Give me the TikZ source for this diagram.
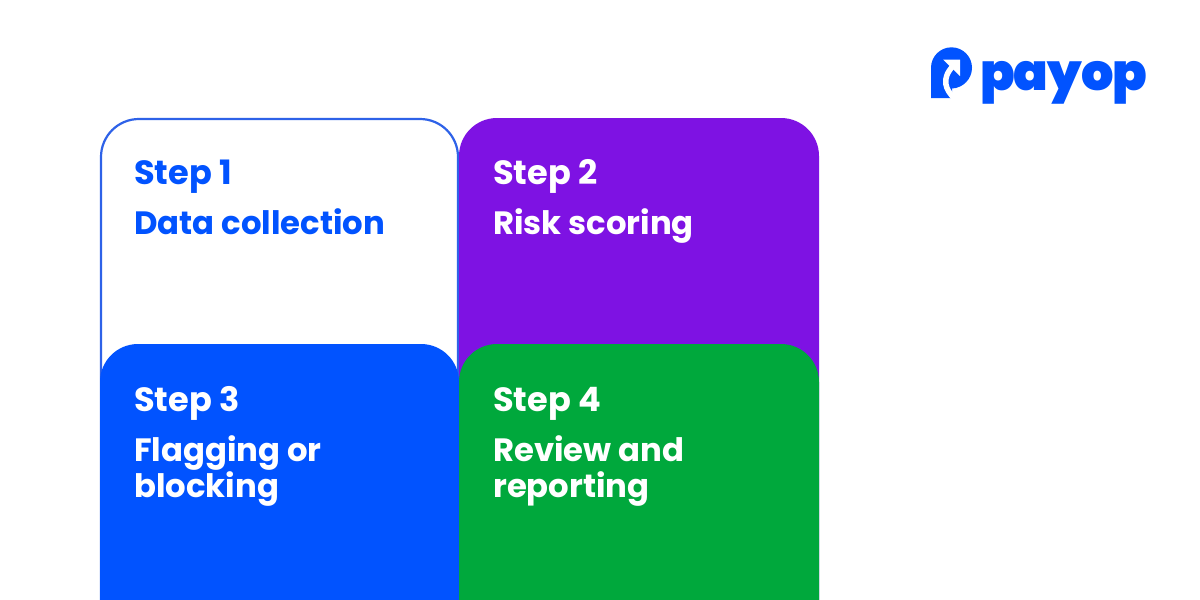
\documentclass[tikz,border=0pt]{standalone}
\usepackage{fontspec}
\setmainfont{Poppins}
\newfontfamily\logofont[LetterSpace=-2]{Poppins Black}
\definecolor{pblue}{HTML}{0153FF}
\definecolor{ppurple}{HTML}{7E12E3}
\definecolor{pgreen}{HTML}{00A83C}
\definecolor{pline}{HTML}{2E62E8}
\tikzset{
  steplabel/.style={anchor=base west,inner sep=0pt,font=\fontsize{33.6}{34}\selectfont\bfseries},
  titlelabel/.style={anchor=base west,inner sep=0pt,font=\fontsize{32.3}{33}\selectfont\bfseries},
}
\begin{document}
\begin{tikzpicture}[x=1pt,y=-1pt]
\useasboundingbox (0,0) rectangle (1200,600);
\fill[white] (0,0) rectangle (1200,600);
% cards
\draw[pline,line width=2.2pt,fill=white,rounded corners=38pt] (101,650) -- (101,119) -- (458,119) -- (458,650);
\fill[ppurple,rounded corners=38pt] (459,650) -- (459,118) -- (819,118) -- (819,650) -- cycle;
\fill[pblue,rounded corners=38pt] (100,700) -- (100,344) -- (459,344) -- (459,700) -- cycle;
\fill[pgreen,rounded corners=38pt] (459,700) -- (459,344) -- (819,344) -- (819,700) -- cycle;
\fill[white] (0,600) rectangle (1200,720);
% text
\node[steplabel,text=pblue] (s1) at (134,184) {Step 1};
\node[titlelabel,text=pblue] (t1) at (134,234.5) {Data collection};
\node[steplabel,text=white] (s2) at (493,184) {Step 2};
\node[titlelabel,text=white] (t2) at (493,234.5) {Risk scoring};
\node[steplabel,text=white] (s3) at (134,411) {Step 3};
\node[titlelabel,text=white] (t3) at (134,461) {Flagging or};
\node[titlelabel,text=white] (t3b) at (134,497.5) {blocking};
\node[steplabel,text=white] (s4) at (493,411) {Step 4};
\node[titlelabel,text=white] (t4) at (493,461) {Review and};
\node[titlelabel,text=white] (t4b) at (493,497.5) {reporting};
% logo
\fill[pblue] (931,98) -- (931,67.8) arc[start angle=180,end angle=360,radius=20.5] .. controls (972,79) and (963,88) .. (952,88.5) -- (952,98) -- cycle;
\draw[white,line width=5.5pt] (954.5,98.5) .. controls (946,90) and (940,79) .. (954,65);
\fill[white] (943,59.5) -- (960,59.5) -- (960,76) -- cycle;
\node[anchor=base west,inner sep=0pt,text=pblue,font=\logofont\fontsize{51}{51}\selectfont] (logo) at (980,90) {payop};
\end{tikzpicture}
\end{document}
